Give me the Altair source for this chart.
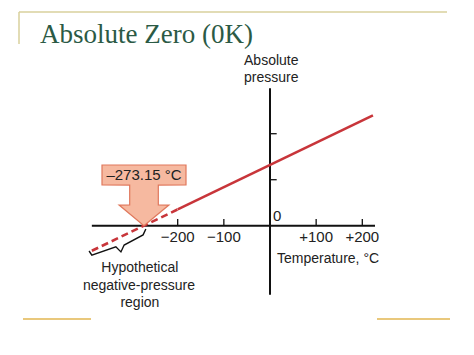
import altair as alt
import pandas as pd

# ---- data ----
temperature = [-386, -200, 223]          # °C
pressure = [-0.545, 0.354, 2.40]         # arbitrary units (tick = 1)

x_tick_values = [-200, -100, 100, 200]
x_tick_labels = ["\u2212200", "\u2212100", "+100", "+200"]
y_tick_values = [1, 2]

absolute_zero = -273.15

# arrow annotation outline (left / right edges at each pressure level)
arrow_p = [1.32, 0.886, 0.884, 0.451, 0.449, 0.0]
arrow_left = [-364, -364, -304, -304, -327, absolute_zero]
arrow_right = [-182, -182, -242, -242, -219, absolute_zero]

# brace under the dashed region
brace_t = [-392, -386, -334, -323, -316, -275, -269]
brace_p = [-0.55, -0.64, -0.46, -0.57, -0.42, -0.20, -0.07]

W, H = 474, 355
XS = alt.Scale(domain=[-585, 442], nice=False, zero=False)
YS = alt.Scale(domain=[-2.811, 4.907], nice=False, zero=False)
FONT = "Liberation Sans"
INK = "#222222"
RED = "#c8353a"


def X(f):
    return alt.X(f, type="quantitative", scale=XS, axis=None)


def Y(f):
    return alt.Y(f, type="quantitative", scale=YS, axis=None)


one = pd.DataFrame({"a": [0]})

# slide decoration
deco_color = "#d8d09c"
gold = "#e2b650"
top_line = alt.Chart(one).mark_rule(color=deco_color, strokeWidth=1.5).encode(
    x=alt.value(19), x2=alt.value(447), y=alt.value(12))
left_line = alt.Chart(one).mark_rule(color=deco_color, strokeWidth=1.5).encode(
    x=alt.value(19), y=alt.value(12), y2=alt.value(44))
bot_left = alt.Chart(one).mark_rule(color=gold, strokeWidth=1.5).encode(
    x=alt.value(23), x2=alt.value(91), y=alt.value(319))
bot_right = alt.Chart(one).mark_rule(color=gold, strokeWidth=1.5).encode(
    x=alt.value(377), x2=alt.value(450), y=alt.value(319))
title = alt.Chart(one).mark_text(
    text="Absolute Zero (0K)", font="Liberation Serif", fontSize=27,
    color="#2b5a45", align="left", baseline="alphabetic").encode(
    x=alt.value(40), y=alt.value(43))

# axes
axes_df = pd.DataFrame({
    "x1": [-386, 0], "x2": [227.5, 0],
    "y1": [0, 2.99], "y2": [0, -1.5],
})
axes = alt.Chart(axes_df).mark_rule(color="#111111", strokeWidth=2).encode(
    x=X("x1"), x2=alt.X2("x2"), y=Y("y1"), y2=alt.Y2("y2"))

xt = pd.DataFrame({"t": x_tick_values, "lab": x_tick_labels,
                   "p0": [0] * 4, "p1": [0.145] * 4})
x_ticks = alt.Chart(xt).mark_rule(color="#111111", strokeWidth=1.3).encode(
    x=X("t"), y=Y("p0"), y2=alt.Y2("p1"))
x_labels = alt.Chart(xt).mark_text(
    font=FONT, fontSize=15, color=INK, baseline="alphabetic", dy=0).encode(
    x=X("t"), y=alt.Y("py:Q", scale=YS, axis=None), text="lab:N"
).transform_calculate(py="-0.354")

yt = pd.DataFrame({"p": y_tick_values, "t0": [0] * 2, "t1": [14.5] * 2})
y_ticks = alt.Chart(yt).mark_rule(color="#111111", strokeWidth=1.3).encode(
    x=X("t0"), x2=alt.X2("t1"), y=Y("p"))

# data line
line_df = pd.DataFrame({"t": temperature, "p": pressure})
dashed = alt.Chart(line_df.iloc[:2]).mark_line(
    color=RED, strokeWidth=2.6, strokeDash=[7, 4]).encode(x=X("t"), y=Y("p"))
solid = alt.Chart(line_df.iloc[1:]).mark_line(
    color=RED, strokeWidth=2.6).encode(x=X("t"), y=Y("p"))

# arrow annotation
arrow_df = pd.DataFrame({"p": arrow_p, "l": arrow_left, "r": arrow_right})
arrow = alt.Chart(arrow_df).mark_area(
    orient="horizontal", fill="#f6b9a0", stroke="#e0785c",
    strokeWidth=1.2, opacity=1).encode(
    y=Y("p"), x=X("l"), x2=alt.X2("r"))

brace_df = pd.DataFrame({"t": brace_t, "p": brace_p,
                         "i": list(range(len(brace_t)))})
brace = alt.Chart(brace_df).mark_line(color="#111111", strokeWidth=1.4).encode(
    x=X("t"), y=Y("p"), order="i:Q")

# texts
center_txt = pd.DataFrame({
    "t": [-273, -282, -284, -282],
    "p": [0.99, -1.006, -1.387, -1.767],
    "txt": ["\u2013273.15 \u00b0C", "Hypothetical", "negative-pressure", "region"],
    "size": [15, 14, 14, 14],
})
center_text = alt.Chart(center_txt).mark_text(
    font=FONT, color=INK, baseline="alphabetic", align="center").encode(
    x=X("t"), y=Y("p"), text="txt:N",
    size=alt.Size("size:Q", scale=None, legend=None))

left_txt = pd.DataFrame({
    "t": [-56.3, -56.3, 15.2, 6.5],
    "p": [3.49, 3.12, -0.81, 0.11],
    "txt": ["Absolute", "pressure", "Temperature, \u00b0C", "0"],
    "size": [14, 14, 14, 15],
})
left_text = alt.Chart(left_txt).mark_text(
    font=FONT, color=INK, baseline="alphabetic", align="left").encode(
    x=X("t"), y=Y("p"), text="txt:N",
    size=alt.Size("size:Q", scale=None, legend=None))

chart = alt.layer(
    top_line, left_line, bot_left, bot_right, title,
    axes, x_ticks, y_ticks, x_labels,
    dashed, solid, arrow, brace, center_text, left_text,
).properties(
    width=W, height=H, padding=0, autosize=alt.AutoSizeParams(type="none"),
    background="white",
).configure_view(stroke=None)

chart.save("out.html", embed_options={"renderer": "svg", "actions": False})
